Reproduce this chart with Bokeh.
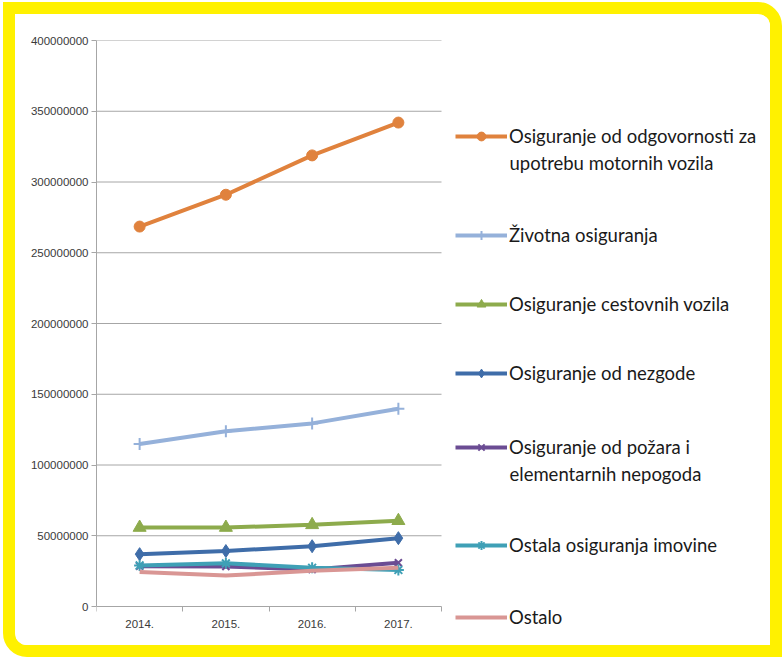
from bokeh.plotting import figure
from bokeh.layouts import column
from bokeh.models import (Legend, LegendItem, Label, FixedTicker, Range1d,
                          BasicTickFormatter)
from bokeh.embed import file_html
from bokeh.resources import INLINE

years = ["2014.", "2015.", "2016.", "2017."]
series_names = [
    "Osiguranje od odgovornosti za\nupotrebu motornih vozila",
    "Životna osiguranja",
    "Osiguranje cestovnih vozila",
    "Osiguranje od nezgode",
    "Osiguranje od požara i\nelementarnih nepogoda",
    "Ostala osiguranja imovine",
    "Ostalo",
]
odgovornost = [268.5e6, 291.0e6, 318.8e6, 342.0e6]
zivotna = [114.8e6, 123.8e6, 129.4e6, 139.7e6]
cestovna = [55.8e6, 55.8e6, 57.7e6, 60.6e6]
nezgoda = [37.0e6, 39.2e6, 42.6e6, 48.3e6]
pozar = [28.5e6, 28.3e6, 26.1e6, 30.9e6]
imovina = [29.0e6, 30.5e6, 27.4e6, 25.8e6]
ostalo = [24.3e6, 21.9e6, 25.2e6, 27.3e6]
y_ticks = [0, 50e6, 100e6, 150e6, 200e6, 250e6, 300e6, 350e6, 400e6]

series = [odgovornost, zivotna, cestovna, nezgoda, pozar, imovina, ostalo]
colors = ["#E0823D", "#95B1DA", "#8DAB4C", "#3F6DA9", "#6B4C93", "#3FA0B6", "#D99694"]
markers = ["circle", "cross", "triangle", "diamond", "x", "asterisk", None]
msizes = [11, 12, 13, 13, 10, 11, 0]

# canvas geometry (inside the yellow frame)
W, H = 755, 631
LEFT, TOP = 81, 26          # frame origin in canvas
PLOT_W, PLOT_H = 345, 566   # width/height of the data area (0..4, 0..400M)
Y_MAX = 400e6
frame_w = W - LEFT
frame_h = H - TOP
x_end = len(years) * frame_w / PLOT_W
y_start = -(frame_h - PLOT_H) / PLOT_H * Y_MAX

p = figure(width=W, height=H, output_backend="svg", toolbar_location=None,
           min_border_left=LEFT, min_border_right=0, min_border_top=TOP,
           min_border_bottom=0,
           x_range=Range1d(0, x_end), y_range=Range1d(y_start, Y_MAX))
p.outline_line_color = None
p.background_fill_color = "white"
p.border_fill_color = "white"
p.xgrid.visible = False
p.ygrid.visible = False

# horizontal gridlines limited to the data area
grid_y = y_ticks[1:]
p.segment(x0=[0] * len(grid_y), x1=[len(years)] * len(grid_y), y0=grid_y,
          y1=grid_y, line_color="#A6A6A6", line_width=1)

xs = [i + 0.5 for i in range(len(years))]

renderers = []
for vals, c, m, s in zip(series, colors, markers, msizes):
    rs = [p.line(xs, vals, line_color=c, line_width=4)]
    if m is not None:
        if m in ("cross", "x", "asterisk"):
            rs.append(p.scatter(xs, vals, marker=m, size=s, line_color=c,
                                line_width=2))
        else:
            rs.append(p.scatter(xs, vals, marker=m, size=s, fill_color=c,
                                line_color=c))
    renderers.append(rs)

# axes
xa = p.xaxis[0]
xa.fixed_location = 0
xa.bounds = (0, len(years))
xa.ticker = FixedTicker(ticks=xs, minor_ticks=list(range(len(years) + 1)))
xa.major_label_overrides = {x: y for x, y in zip(xs, years)}
xa.major_tick_line_color = None
xa.major_tick_out = 0
xa.major_tick_in = 0
xa.minor_tick_out = 5
xa.minor_tick_in = 0
xa.minor_tick_line_color = "#A6A6A6"
xa.major_label_standoff = 8
xa.axis_line_color = "#A6A6A6"

ya = p.yaxis[0]
ya.bounds = (0, Y_MAX)
ya.ticker = FixedTicker(ticks=y_ticks)
ya.formatter = BasicTickFormatter(use_scientific=False)
ya.major_tick_out = 5
ya.major_tick_in = 0
ya.minor_tick_line_color = None
ya.major_tick_line_color = "#A6A6A6"
ya.axis_line_color = "#A6A6A6"
ya.major_label_standoff = 3

for ax in (xa, ya):
    ax.major_label_text_font = "Liberation Sans"
    ax.major_label_text_font_size = "11.5px"
    ax.major_label_text_color = "#3A3A3A"

# legend: one legend per entry to reproduce Excel's spacing
glyph_x = 440 - LEFT
item_centers = [121.7, 221, 290, 359, 433, 531, 603]
item_h = 22
line_gap = 26.4
for name, rs, yc in zip(series_names, renderers, item_centers):
    lines = name.split("\n")
    lg = Legend(items=[LegendItem(label=lines[0], renderers=rs)],
                location=(glyph_x, H - yc - item_h / 2),
                glyph_width=52, glyph_height=item_h, label_height=item_h,
                label_standoff=2, padding=0, margin=0, spacing=0,
                border_line_color=None, background_fill_alpha=0,
                label_text_font="Lato", label_text_font_size="18.5px",
                label_text_color="#1A1A1A")
    p.add_layout(lg, "center")
    for k, extra in enumerate(lines[1:], start=1):
        p.add_layout(Label(x=glyph_x + 54, y=H - yc - line_gap * k,
                           x_units="screen", y_units="screen", text=extra,
                           text_font="Lato", text_font_size="18.5px",
                           text_color="#1A1A1A", text_baseline="middle"))

layout = column(p, styles={"border": "12px solid #FFF100",
                           "border-radius": "0 24px 0 24px",
                           "box-sizing": "content-box",
                           "overflow": "hidden",
                           "margin-left": "3px", "margin-top": "2px",
                           "background-color": "white"})

open("out.html", "w").write(file_html(layout, INLINE))
